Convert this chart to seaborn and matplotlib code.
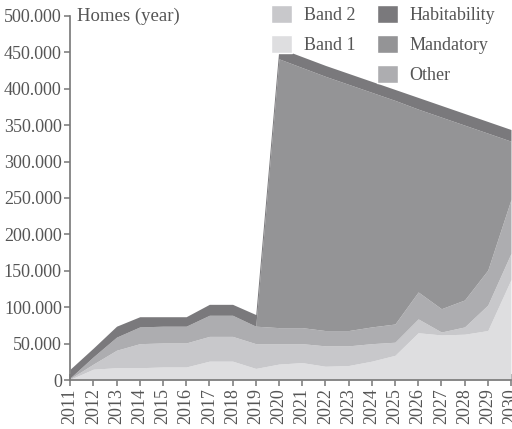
import numpy as np
import pandas as pd
import seaborn as sns
import matplotlib.pyplot as plt
from matplotlib.patches import Patch
from matplotlib.ticker import FuncFormatter

# Data (thousands of homes per year)
years = list(range(2011, 2031))
band1 = [1, 15, 17, 17, 18, 18, 26, 26, 16, 22, 24, 19, 20, 26, 34, 65, 62, 63, 68, 138]
band2 = [1, 7, 24, 33, 33, 33, 34, 34, 34, 28, 26, 28, 27, 24, 18, 19, 4, 10, 35, 36]
other = [1, 10, 18, 23, 23, 23, 29, 29, 24, 22, 22, 21, 21, 23, 25, 37, 32, 37, 48, 74]
mandatory = [0, 0, 0, 0, 0, 0, 0, 0, 0, 369, 357, 349, 338, 322, 307, 251, 263, 240, 188, 80]
habitability = [12, 12, 15, 14, 13, 13, 15, 15, 16, 15, 15, 15, 15, 15, 15, 16, 16, 16, 16, 16]

y_ticks = [0, 50000, 100000, 150000, 200000, 250000, 300000, 350000, 400000, 450000, 500000]

series_names = ["Band 1", "Band 2", "Other", "Mandatory", "Habitability"]
colors = ["#dedee0", "#c8c8cb", "#adadb0", "#949496", "#7a797c"]


def build_frame():
    df = pd.DataFrame({
        "year": years,
        "Band 1": band1,
        "Band 2": band2,
        "Other": other,
        "Mandatory": mandatory,
        "Habitability": habitability,
    })
    for name in series_names:
        df[name] = df[name] * 1000
    return df


def plot(df):
    sns.set_style("ticks")
    plt.rcParams["font.family"] = ["Liberation Serif", "DejaVu Serif"]
    text_color = "#555555"

    fig = plt.figure(figsize=(5.12, 4.29), dpi=100)
    ax = fig.add_axes([0.137, 0.114, 0.861, 0.849])

    ax.stackplot(df["year"], [df[n] for n in series_names],
                 colors=colors, linewidth=0)

    ax.set_xlim(2011, 2030)
    ax.set_ylim(0, 500000)
    ax.set_xticks(years)
    ax.set_xticklabels([str(y) for y in years], rotation=90)
    ax.set_yticks(y_ticks)
    ax.yaxis.set_major_formatter(
        FuncFormatter(lambda v, p: "0" if v == 0 else f"{int(v):,}".replace(",", ".")))

    sns.despine(ax=ax)
    for side in ["left", "bottom"]:
        ax.spines[side].set_color("#777777")
        ax.spines[side].set_linewidth(1.2)
        ax.spines[side].set_zorder(5)
    ax.tick_params(axis="x", direction="inout", length=8, width=1.1,
                   color="#777777", labelcolor=text_color, labelsize=13, pad=2)
    ax.tick_params(axis="y", direction="out", length=4, width=1.1,
                   color="#777777", labelcolor=text_color, labelsize=13, pad=2)
    ax.set_xlabel("")
    ax.set_ylabel("")

    ax.text(2011.3, 500000, "Homes (year)", fontsize=13.5, color=text_color,
            va="center", ha="left")

    handles = [
        Patch(facecolor=colors[1], label="Band 2"),
        Patch(facecolor=colors[0], label="Band 1"),
        Patch(facecolor="none", edgecolor="none", label=""),
        Patch(facecolor=colors[4], label="Habitability"),
        Patch(facecolor=colors[3], label="Mandatory"),
        Patch(facecolor=colors[2], label="Other"),
    ]
    leg = ax.legend(handles=handles, ncol=2, loc="upper left",
                    bbox_to_anchor=(0.44, 1.05), frameon=False,
                    fontsize=13, handlelength=1.15, handleheight=1.15,
                    handletextpad=0.65, columnspacing=1.2, labelspacing=0.6,
                    borderaxespad=0)
    for t in leg.get_texts():
        t.set_color(text_color)

    fig.savefig("out.png", dpi=100, facecolor="white")


def main():
    df = build_frame()
    plot(df)


if __name__ == "__main__":
    main()
